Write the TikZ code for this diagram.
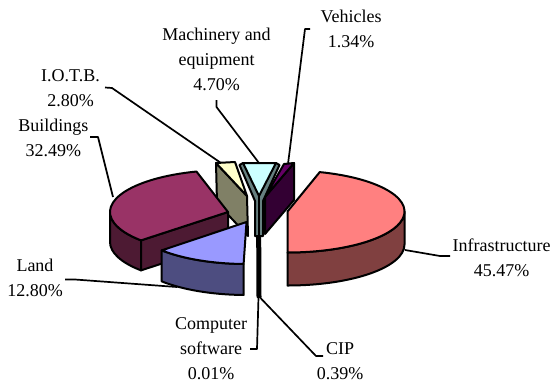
\documentclass[tikz,border=0pt]{standalone}
\usepackage{fontspec}
\setmainfont{Liberation Serif}
\usetikzlibrary{calc}
\definecolor{infraTop}{HTML}{FF8080}
\definecolor{infraSide}{HTML}{804040}
\definecolor{bldTop}{HTML}{993366}
\definecolor{bldSide}{HTML}{4D1A33}
\definecolor{landTop}{HTML}{9999FF}
\definecolor{landSide}{HTML}{4D4D80}
\definecolor{iotbTop}{HTML}{FFFFCC}
\definecolor{iotbSide}{HTML}{808066}
\definecolor{machTop}{HTML}{CCFFFF}
\definecolor{machSide}{HTML}{668080}
\definecolor{vehTop}{HTML}{660066}
\definecolor{vehSide}{HTML}{330033}
\begin{document}
\begin{tikzpicture}[x=1pt,y=-1pt, line join=round,
  slice/.style={draw=black, line width=2pt},
  leader/.style={draw=black, line width=1.7pt},
  lbl/.style={align=center, inner sep=0pt, font=\fontsize{18}{25}\selectfont}]
\useasboundingbox (0,0) rectangle (553,383);

\coordinate (I) at (287.5,211.5);
\coordinate (B) at (228,212);
\coordinate (L) at (246.5,222);

% Vehicles
\filldraw[slice, fill=vehSide] (294,163) -- (265,197) -- (265,234) -- (294,200) -- cycle;
\filldraw[slice, fill=vehTop] (284,164) -- (294,163) -- (265,197) -- cycle;

% I.O.T.B.
\filldraw[slice, fill=iotbSide] (216,163) -- (247,196) -- (248,236) -- (217,203) -- cycle;
\filldraw[slice, fill=iotbTop] (216,163) -- (235,162) -- (247,196) -- cycle;

% CIP
\filldraw[slice, fill=black] (257,200) -- (260,200) -- (260.5,297) -- (257.5,297) -- cycle;

% Machinery and equipment
\filldraw[slice, fill=machSide] (239.5,165) -- (243,163) -- (276,163) -- (279.5,165) -- (263,201) -- (263,236) -- (255,236) -- (255,201) -- cycle;
\filldraw[slice, fill=machTop] (243,163) -- (276,163) -- (259,196) -- cycle;
\draw[slice] (259,196) -- (259,236);

% Buildings
\filldraw[slice, fill=bldSide] ($(B)+(-180:118 and 42)$) arc[start angle=-180, end angle=-222.5, x radius=118, y radius=42] -- ++(0,30) arc[start angle=-222.5, end angle=-180, x radius=118, y radius=42] -- cycle;
\filldraw[slice, fill=bldSide] (B) -- ($(B)+(-222.5:118 and 42)$) -- ++(0,30) -- ($(B)+(0,30)$) -- cycle;
\filldraw[slice, fill=bldTop] (B) -- ($(B)+(-105.5:118 and 42)$) arc[start angle=-105.5, end angle=-222.5, x radius=118, y radius=42] -- cycle;

% Land
\filldraw[slice, fill=landSide] ($(L)+(-222.5:115 and 42)$) arc[start angle=-222.5, end angle=-268.56, x radius=115, y radius=42] -- ++(0,31) arc[start angle=-268.56, end angle=-222.5, x radius=115, y radius=42] -- cycle;
\filldraw[slice, fill=landTop] (L) -- ($(L)+(-222.5:115 and 42)$) arc[start angle=-222.5, end angle=-268.56, x radius=115, y radius=42] -- cycle;

% Infrastructure
\filldraw[slice, fill=infraSide] ($(I)+(0:117 and 41)$) arc[start angle=0, end angle=90, x radius=117, y radius=41] -- ++(0,33) arc[start angle=90, end angle=0, x radius=117, y radius=41] -- cycle;
\filldraw[slice, fill=infraTop] (I) -- ($(I)+(-74:117 and 41)$) arc[start angle=-74, end angle=90, x radius=117, y radius=41] -- cycle;

% labels
\node[lbl] (veh) at (351,28.5) {Vehicles\\1.34\%};
\node[lbl] (mach) at (216.5,59) {Machinery and\\equipment\\4.70\%};
\node[lbl] (iotb) at (70.5,88.3) {I.O.T.B.\\2.80\%};
\node[lbl] (bld) at (53.3,137.5) {Buildings\\32.49\%};
\node[lbl] (land) at (35,278.3) {Land\\12.80\%};
\node[lbl] (soft) at (211,349) {Computer\\software\\0.01\%};
\node[lbl] (cip) at (340,361) {CIP\\0.39\%};
\node[lbl] (infra) at (501.5,257.5) {Infrastructure\\45.47\%};

% leader points
\coordinate (vehA) at (310,29);   \coordinate (vehB) at (305,29);   \coordinate (vehC) at (288,164);
\coordinate (machA) at (216.5,100); \coordinate (machB) at (216.5,107); \coordinate (machC) at (259,163);
\coordinate (iotbA) at (105,87.5); \coordinate (iotbB) at (112,88); \coordinate (iotbC) at (221,163);
\coordinate (bldA) at (90,137);   \coordinate (bldB) at (98,137);   \coordinate (bldC) at (113,197);
\coordinate (landA) at (65,279.5); \coordinate (landB) at (75,279.5); \coordinate (landC) at (177,287);
\coordinate (softA) at (250,349); \coordinate (softB) at (257,349); \coordinate (softC) at (258.5,297);
\coordinate (cipA) at (323,356);  \coordinate (cipB) at (316,356);  \coordinate (cipC) at (260.5,298);
\coordinate (infA) at (450,256);  \coordinate (infB) at (440,256);  \coordinate (infC) at (405,250);

\draw[leader] (vehA) -- (vehB) -- (vehC);
\draw[leader] (machA) -- (machB) -- (machC);
\draw[leader] (iotbA) -- (iotbB) -- (iotbC);
\draw[leader] (bldA) -- (bldB) -- (bldC);
\draw[leader] (landA) -- (landB) -- (landC);
\draw[leader] (softA) -- (softB) -- (softC);
\draw[leader] (cipA) -- (cipB) -- (cipC);
\draw[leader] (infA) -- (infB) -- (infC);
\end{tikzpicture}
\end{document}
